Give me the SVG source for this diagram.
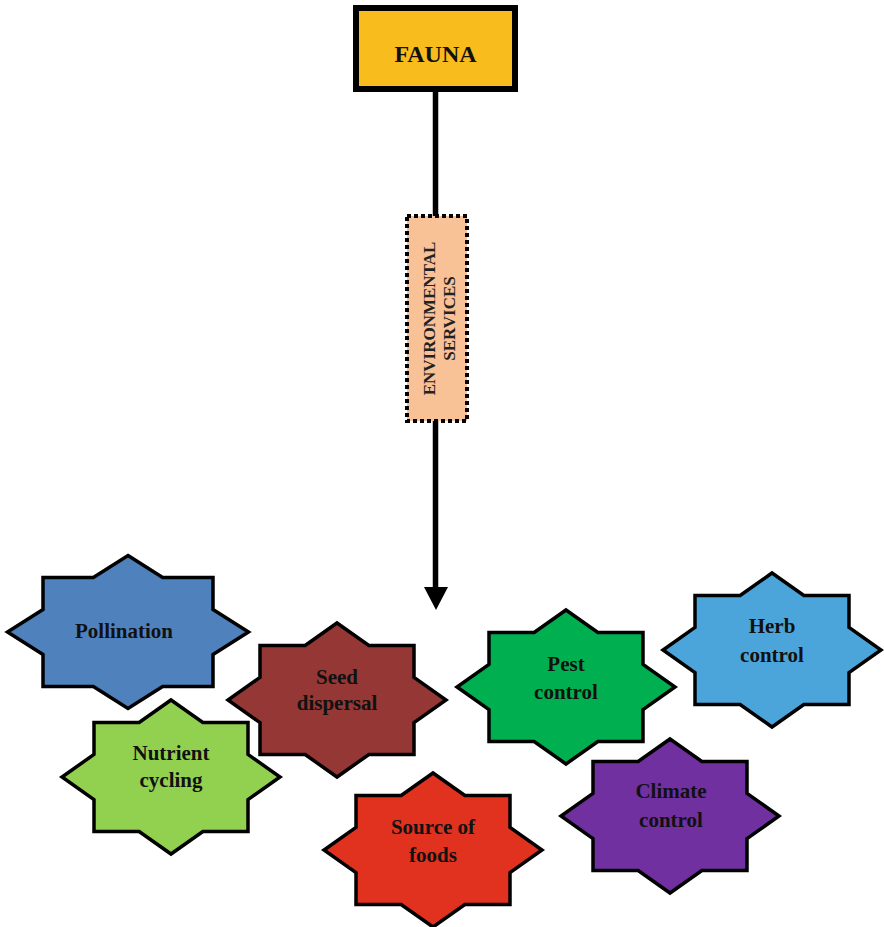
<svg xmlns="http://www.w3.org/2000/svg" xmlns:xlink="http://www.w3.org/1999/xlink" width="884" height="927" viewBox="0 0 884 927">
<style>
.star{stroke:#000;stroke-width:3.5;stroke-linejoin:miter}
.lbl{font-family:"Liberation Serif","Times New Roman",serif;font-weight:bold;font-size:21px;fill:#111;text-anchor:middle}
.env{font-family:"Liberation Serif","Times New Roman",serif;font-weight:bold;font-size:17px;fill:#222;text-anchor:middle}
.conn{stroke:#000;stroke-width:5.5;fill:none}
</style>
<defs>
<polygon id="star" points="0,-77 31.85,-54.5 77,-54.5 77,-22.6 109,0 77,22.6 77,54.5 31.85,54.5 0,77 -31.85,54.5 -77,54.5 -77,22.6 -109,0 -77,-22.6 -77,-54.5 -31.85,-54.5"/>
</defs>
<rect width="884" height="927" fill="#fff"/>
<g id="connectors">
<line class="conn" x1="435.5" y1="92" x2="435.5" y2="216"/>
<line class="conn" x1="435.5" y1="421" x2="435.5" y2="590"/>
<polygon points="424,587 448,587 436,610" fill="#000"/>
</g>
<g id="fauna">
<rect x="356" y="8" width="159" height="81" fill="#F8BC1C" stroke="#000" stroke-width="6"/>
<text x="435.5" y="62" style="font-family:'Liberation Serif','Times New Roman',serif;font-weight:bold;font-size:24px;fill:#111;text-anchor:middle">FAUNA</text>
</g>
<g id="environmental-services">
<rect x="407" y="216" width="60" height="205" fill="#F8C196" stroke="#000" stroke-width="4" stroke-dasharray="4 3"/>
<text class="env" transform="translate(435,318.5) rotate(-90)">ENVIRONMENTAL</text>
<text class="env" transform="translate(455,318.5) rotate(-90)">SERVICES</text>
</g>
<g id="pollination">
<polygon class="star" fill="#4F81BD" points="128,555.5 162.65,577.5 213,577.5 213,609.46 248.5,632 213,654.54 213,686.5 162.65,686.5 128,708.5 93.35,686.5 43,686.5 43,654.54 7.5,632 43,609.46 43,577.5 93.35,577.5"/>
<text class="lbl" x="124" y="638">Pollination</text>
</g>
<g id="seed-dispersal">
<use xlink:href="#star" href="#star" class="star" fill="#953735" transform="translate(337,700)"/>
<text class="lbl" x="337" y="684">Seed</text>
<text class="lbl" x="337" y="710">dispersal</text>
</g>
<g id="nutrient-cycling">
<use xlink:href="#star" href="#star" class="star" fill="#92D050" transform="translate(171,777)"/>
<text class="lbl" x="171" y="760">Nutrient</text>
<text class="lbl" x="171" y="787">cycling</text>
</g>
<g id="source-of-foods">
<use xlink:href="#star" href="#star" class="star" fill="#E0321F" transform="translate(433,850)"/>
<text class="lbl" x="433" y="834">Source of</text>
<text class="lbl" x="433" y="862">foods</text>
</g>
<g id="pest-control">
<use xlink:href="#star" href="#star" class="star" fill="#00B050" transform="translate(566,687)"/>
<text class="lbl" x="566" y="671">Pest</text>
<text class="lbl" x="566" y="699">control</text>
</g>
<g id="herb-control">
<use xlink:href="#star" href="#star" class="star" fill="#4CA5DA" transform="translate(772,650)"/>
<text class="lbl" x="772" y="633">Herb</text>
<text class="lbl" x="772" y="662">control</text>
</g>
<g id="climate-control">
<use xlink:href="#star" href="#star" class="star" fill="#7030A0" transform="translate(670,816)"/>
<text class="lbl" x="671" y="798">Climate</text>
<text class="lbl" x="671" y="827">control</text>
</g>
</svg>
